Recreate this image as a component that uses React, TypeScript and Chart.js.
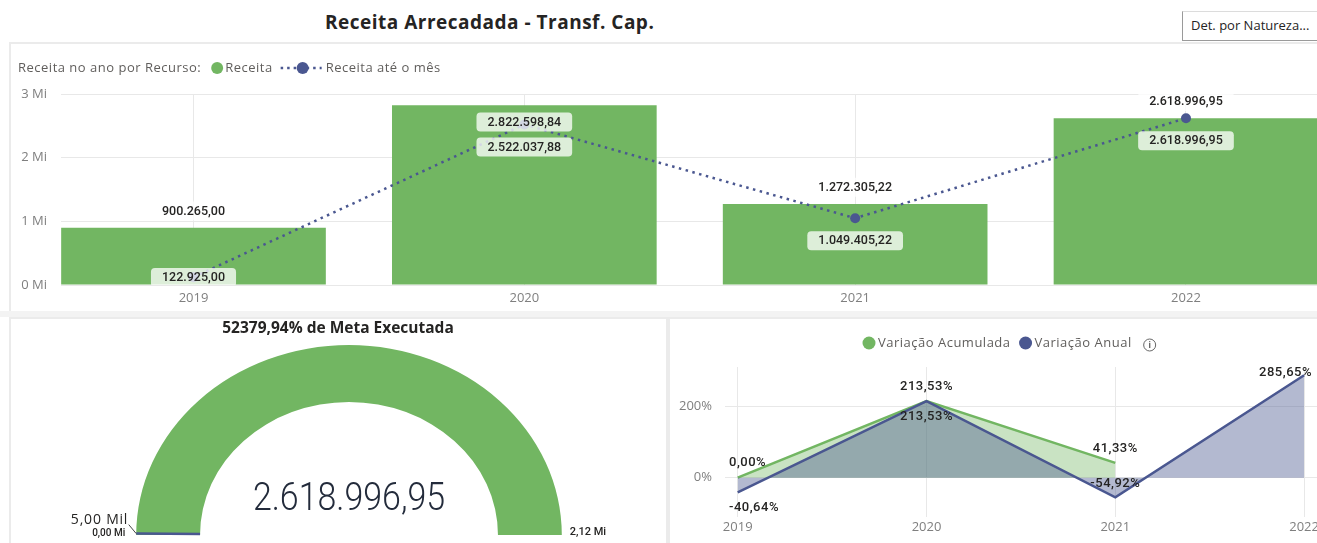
import React, { useEffect, useRef } from 'react';
import { Chart, registerables } from 'chart.js';

Chart.register(...registerables);
Chart.defaults.font.family = '"Open Sans", sans-serif';

// ---------------- data ----------------
const years = ['2019', '2020', '2021', '2022'];
const receita = [900265.0, 2822598.84, 1272305.22, 2618996.95];
const receitaAteMes = [122925.0, 2522037.88, 1049405.22, 2618996.95];
const yTicksMi = [0, 1000000, 2000000, 3000000];

const variacaoAcumulada = [0.0, 213.53, 41.33, null];
const variacaoAnual = [-40.64, 213.53, -54.92, 285.65];
const yTicksPct = [0, 200];

const gaugeValue = 2618996.95;
const gaugeMin = 0;
const gaugeMax = 2120000;
const gaugeTarget = 5000;
const metaExecutadaPct = 52379.94;

// ---------------- styles ----------------
const GREEN = '#72B662';
const BLUE = '#4A5790';
const GRID = '#E8E8E8';
const AXIS_TEXT = '#7F7F7F';
const LEGEND_TEXT = '#605E5C';
const LABEL_TEXT = '#252423';
const PANEL_BORDER = '#EBEBEB';

function fmtBR(v: number, d = 2): string {
  const neg = v < 0;
  const s = Math.abs(v).toFixed(d);
  const [int, frac] = s.split('.');
  const intS = int.replace(/\B(?=(\d{3})+(?!\d))/g, '.');
  return (neg ? '-' : '') + intS + (frac ? ',' + frac : '');
}
function pctBR(v: number): string {
  return v.toFixed(2).replace('.', ',') + '%';
}

function roundRectPath(ctx: CanvasRenderingContext2D, x: number, y: number, w: number, h: number, r: number) {
  ctx.beginPath();
  ctx.moveTo(x + r, y);
  ctx.lineTo(x + w - r, y);
  ctx.arcTo(x + w, y, x + w, y + r, r);
  ctx.lineTo(x + w, y + h - r);
  ctx.arcTo(x + w, y + h, x + w - r, y + h, r);
  ctx.lineTo(x + r, y + h);
  ctx.arcTo(x, y + h, x, y + h - r, r);
  ctx.lineTo(x, y + r);
  ctx.arcTo(x, y, x + r, y, r);
  ctx.closePath();
}

const fitX = (h: number) => (s: any) => {
  s.height = h;
  s.paddingLeft = 0;
  s.paddingRight = 0;
};
const fitY = (w: number) => (s: any) => {
  s.width = w;
  s.paddingTop = 0;
  s.paddingBottom = 0;
};

// ---------------- top chart ----------------
function ReceitaChart() {
  const ref = useRef<HTMLCanvasElement>(null);
  useEffect(() => {
    const canvas = ref.current!;

    const legendPlugin = {
      id: 'receitaLegend',
      afterDraw(chart: any) {
        const ctx: CanvasRenderingContext2D = chart.ctx;
        ctx.save();
        ctx.font = '13px "Open Sans"';
        (ctx as any).letterSpacing = '0.5px';
        ctx.textBaseline = 'middle';
        ctx.textAlign = 'left';
        const y = 24;
        let x = 18;
        const prefix = 'Receita no ano por Recurso:';
        ctx.fillStyle = LEGEND_TEXT;
        ctx.fillText(prefix, x, y);
        x += ctx.measureText(prefix).width + 10;
        ctx.fillStyle = GREEN;
        ctx.beginPath();
        ctx.arc(x + 6, y, 6, 0, Math.PI * 2);
        ctx.fill();
        x += 14;
        ctx.fillStyle = LEGEND_TEXT;
        const l1 = chart.data.datasets[0].label;
        ctx.fillText(l1, x, y);
        x += ctx.measureText(l1).width;
        ctx.strokeStyle = BLUE;
        ctx.lineWidth = 2.5;
        ctx.setLineDash([2.5, 4]);
        ctx.beginPath();
        ctx.moveTo(x + 8, y);
        ctx.lineTo(x + 49, y);
        ctx.stroke();
        ctx.setLineDash([]);
        ctx.fillStyle = BLUE;
        ctx.beginPath();
        ctx.arc(x + 30, y, 6, 0, Math.PI * 2);
        ctx.fill();
        ctx.fillStyle = LEGEND_TEXT;
        ctx.fillText(chart.data.datasets[1].label, x + 53, y);
        ctx.restore();
      },
    };

    const labelsPlugin = {
      id: 'receitaLabels',
      afterDatasetsDraw(chart: any) {
        const ctx: CanvasRenderingContext2D = chart.ctx;
        const area = chart.chartArea;
        ctx.save();
        ctx.beginPath();
        ctx.rect(0, 0, chart.width, area.bottom);
        ctx.clip();
        ctx.font = '500 12.5px Roboto';
        ctx.textAlign = 'center';
        ctx.textBaseline = 'middle';
        const drawBox = (text: string, x: number, y: number) => {
          const w = ctx.measureText(text).width + 22;
          const h = 19;
          ctx.fillStyle = 'rgba(255,255,255,0.76)';
          roundRectPath(ctx, x - w / 2, y - h / 2, w, h, 4);
          ctx.fill();
          ctx.fillStyle = LABEL_TEXT;
          ctx.fillText(text, x, y + 0.5);
        };
        const barMeta = chart.getDatasetMeta(0);
        const lineMeta = chart.getDatasetMeta(1);
        barMeta.data.forEach((bar: any, i: number) => {
          let y = bar.y - 16.7;
          if (y < area.top) y = bar.y + 16.7;
          drawBox(fmtBR(receita[i]), bar.x, y);
        });
        lineMeta.data.forEach((pt: any, i: number) => {
          let y = pt.y + 22.5;
          if (y > area.bottom - 7.5) y = area.bottom - 7.5;
          drawBox(fmtBR(receitaAteMes[i]), pt.x, y);
        });
        ctx.restore();
      },
    };

    const chart = new Chart(canvas, {
      type: 'bar',
      data: {
        datasets: [
          {
            type: 'bar',
            label: 'Receita',
            data: years.map((_, i) => ({ x: i, y: receita[i] })),
            backgroundColor: GREEN,
            borderWidth: 0,
            categoryPercentage: 1,
            barPercentage: 0.8,
            order: 2,
          } as any,
          {
            type: 'line',
            label: 'Receita até o mês',
            data: years.map((_, i) => ({ x: i, y: receitaAteMes[i] })),
            borderColor: BLUE,
            borderWidth: 2.5,
            borderDash: [2.5, 4.5],
            pointRadius: 5,
            pointBackgroundColor: BLUE,
            pointBorderWidth: 0,
            tension: 0,
            order: 1,
          } as any,
        ],
      },
      options: {
        responsive: false,
        animation: false,
        events: [],
        layout: { autoPadding: false, padding: { top: 50, left: 0, right: 0, bottom: 0 } },
        plugins: { legend: { display: false }, tooltip: { enabled: false } },
        scales: {
          x: {
            type: 'linear',
            min: -0.4005,
            max: 3.396,
            offset: false,
            grid: { offset: false, color: GRID, drawTicks: false },
            border: { display: false },
            afterBuildTicks: (s: any) => {
              s.ticks = years.map((_, i) => ({ value: i }));
            },
            ticks: {
              padding: 5,
              maxRotation: 0,
              autoSkip: false,
              color: AXIS_TEXT,
              font: { size: 13 },
              callback: (v: any) => years[v] ?? '',
            },
            afterFit: fitX(27),
          },
          y: {
            min: yTicksMi[0],
            max: yTicksMi[yTicksMi.length - 1],
            grid: { color: GRID, drawTicks: false },
            border: { display: false },
            afterBuildTicks: (s: any) => {
              s.ticks = yTicksMi.map((v) => ({ value: v }));
            },
            ticks: {
              padding: 14,
              color: AXIS_TEXT,
              font: { size: 13 },
              callback: (v: any) => `${v / 1000000} Mi`,
            },
            afterFit: fitY(61),
          },
        },
      } as any,
      plugins: [legendPlugin, labelsPlugin],
    });
    return () => chart.destroy();
  }, []);
  return <canvas ref={ref} width={1317} height={268} style={{ position: 'absolute', left: 0, top: 44 }} />;
}

// ---------------- gauge ----------------
const SX = 1.12;
function GaugeChart() {
  const ref = useRef<HTMLCanvasElement>(null);
  useEffect(() => {
    const canvas = ref.current!;
    const gaugePlugin = {
      id: 'gaugeDeco',
      beforeDatasetsDraw(chart: any) {
        const arc = chart.getDatasetMeta(0).data[0];
        const ctx = chart.ctx;
        ctx.save();
        ctx.translate(arc.x, 0);
        ctx.scale(SX, 1);
        ctx.translate(-arc.x, 0);
      },
      afterDatasetsDraw(chart: any) {
        chart.ctx.restore();
      },
      afterDraw(chart: any) {
        const ctx: CanvasRenderingContext2D = chart.ctx;
        const meta = chart.getDatasetMeta(0);
        const arc = meta.data[0];
        const cx = arc.x;
        const cy = arc.y;
        const ro = arc.outerRadius;
        const ri = arc.innerRadius;
        const start = arc.startAngle;
        const end = meta.data[meta.data.length - 1].endAngle;
        ctx.save();
        ctx.font = '700 15.5px "Open Sans"';
        ctx.fillStyle = LABEL_TEXT;
        ctx.textAlign = 'center';
        ctx.textBaseline = 'middle';
        ctx.fillText(`${pctBR(metaExecutadaPct)} de Meta Executada`, chart.width / 2, 9);
        ctx.save();
        ctx.translate(cx, cy - 25);
        ctx.scale(0.87, 1);
        ctx.font = '300 39px Roboto';
        ctx.fillStyle = '#232B3B';
        ctx.textBaseline = 'alphabetic';
        ctx.fillText(fmtBR(gaugeValue), 0, 0);
        ctx.restore();
        const frac = (gaugeTarget - gaugeMin) / (gaugeMax - gaugeMin);
        const th = start + frac * (end - start);
        const pin = { x: cx + Math.cos(th) * ri * SX, y: cy + Math.sin(th) * ri };
        const pout = { x: cx + Math.cos(th) * ro * SX, y: cy + Math.sin(th) * ro };
        ctx.strokeStyle = BLUE;
        ctx.lineWidth = 2.5;
        ctx.beginPath();
        ctx.moveTo(pin.x, pin.y);
        ctx.lineTo(pout.x, pout.y);
        ctx.stroke();
        ctx.strokeStyle = '#444444';
        ctx.lineWidth = 1;
        ctx.beginPath();
        ctx.moveTo(pout.x, pout.y);
        ctx.lineTo(pout.x - 7.5, pout.y - 9);
        ctx.stroke();
        ctx.fillStyle = LABEL_TEXT;
        ctx.textAlign = 'right';
        ctx.font = '14px "Open Sans"';
        (ctx as any).letterSpacing = '0.8px';
        ctx.fillText(`${(gaugeTarget / 1000).toFixed(2).replace('.', ',')} Mil`, pout.x - 8, pout.y - 14);
        (ctx as any).letterSpacing = '0px';
        ctx.font = '500 10px Roboto';
        ctx.fillText(`${(gaugeMin / 1000000).toFixed(2).replace('.', ',')} Mi`, pout.x - 11, cy - 2);
        ctx.textAlign = 'left';
        ctx.font = '500 11px Roboto';
        ctx.fillText(`${(gaugeMax / 1000000).toFixed(2).replace('.', ',')} Mi`, cx + ro * SX + 8, cy - 3);
        ctx.restore();
      },
    };
    const filled = Math.min(gaugeValue, gaugeMax) - gaugeMin;
    const rest = gaugeMax - gaugeMin - filled;
    const chart = new Chart(canvas, {
      type: 'doughnut',
      data: {
        labels: ['Receita', ''],
        datasets: [
          {
            data: [filled, rest],
            backgroundColor: [GREEN, '#E6E6E6'],
            borderWidth: 0,
            radius: 190,
            cutout: '70%',
            circumference: 180,
            rotation: -90,
            clip: false,
          } as any,
        ],
      },
      options: {
        responsive: false,
        animation: false,
        events: [],
        layout: { autoPadding: false, padding: { top: 17, left: 22, right: 0, bottom: 0 } },
        plugins: { legend: { display: false }, tooltip: { enabled: false } },
      } as any,
      plugins: [gaugePlugin],
    });
    return () => chart.destroy();
  }, []);
  return <canvas ref={ref} width={652} height={223} style={{ position: 'absolute', left: 12, top: 320 }} />;
}

// ---------------- variation chart ----------------
const anualLabelPlacement = ['below', 'below', 'above', 'center'];
function VariacaoChart() {
  const ref = useRef<HTMLCanvasElement>(null);
  useEffect(() => {
    const canvas = ref.current!;
    const legendPlugin = {
      id: 'varLegend',
      afterDraw(chart: any) {
        const ctx: CanvasRenderingContext2D = chart.ctx;
        ctx.save();
        ctx.font = '13px "Open Sans"';
        (ctx as any).letterSpacing = '0.5px';
        ctx.textBaseline = 'middle';
        ctx.textAlign = 'left';
        const y = 23;
        let x = 198;
        [1, 0].forEach((di) => {
          const ds = chart.data.datasets[di];
          ctx.fillStyle = ds.borderColor;
          ctx.beginPath();
          ctx.arc(x, y, 6.5, 0, Math.PI * 2);
          ctx.fill();
          ctx.fillStyle = LEGEND_TEXT;
          ctx.fillText(ds.label, x + 9, y + 0.5);
          x = x + 9 + ctx.measureText(ds.label).width + 15;
        });
        const ix = x + 3;
        ctx.strokeStyle = '#666666';
        ctx.lineWidth = 1;
        ctx.beginPath();
        ctx.arc(ix, y + 2, 6, 0, Math.PI * 2);
        ctx.stroke();
        (ctx as any).letterSpacing = '0px';
        ctx.fillStyle = '#555555';
        ctx.font = 'bold 8px "Open Sans"';
        ctx.textAlign = 'center';
        ctx.fillText('i', ix, y + 2.5);
        ctx.restore();
      },
    };
    const labelsPlugin = {
      id: 'varLabels',
      afterDatasetsDraw(chart: any) {
        const ctx: CanvasRenderingContext2D = chart.ctx;
        const area = chart.chartArea;
        ctx.save();
        ctx.font = '500 13px Roboto';
        (ctx as any).letterSpacing = '0.5px';
        ctx.fillStyle = LABEL_TEXT;
        ctx.textBaseline = 'middle';
        ctx.textAlign = 'left';
        const place = (text: string, x: number, y: number) => {
          const w = ctx.measureText(text).width;
          let left = x - w / 2;
          left = Math.max(area.left + 4, Math.min(area.right - 5 - w, left));
          ctx.fillText(text, left, y);
        };
        const anualMeta = chart.getDatasetMeta(0);
        const acumMeta = chart.getDatasetMeta(1);
        acumMeta.data.forEach((pt: any, i: number) => {
          const v = variacaoAcumulada[i];
          if (v === null || v === undefined || !isFinite(pt.y)) return;
          place(fmtBR(v) + '%', pt.x, pt.y - 14.5);
        });
        anualMeta.data.forEach((pt: any, i: number) => {
          const v = variacaoAnual[i];
          if (v === null || v === undefined || !isFinite(pt.y)) return;
          const pos = anualLabelPlacement[i];
          const dy = pos === 'above' ? -14 : pos === 'below' ? 15.5 : -2.5;
          place(fmtBR(v) + '%', pt.x, pt.y + dy);
        });
        ctx.restore();
      },
    };
    const chart = new Chart(canvas, {
      type: 'line',
      data: {
        datasets: [
          {
            label: 'Variação Anual',
            data: years.map((_, i) => ({ x: i, y: variacaoAnual[i] })),
            borderColor: BLUE,
            backgroundColor: 'rgba(74,87,144,0.42)',
            fill: 'origin',
            borderWidth: 2.5,
            pointRadius: 0,
            tension: 0,
          } as any,
          {
            label: 'Variação Acumulada',
            data: years.map((_, i) => ({ x: i, y: variacaoAcumulada[i] })),
            borderColor: GREEN,
            backgroundColor: 'rgba(114,182,98,0.38)',
            fill: 'origin',
            borderWidth: 2.5,
            pointRadius: 0,
            tension: 0,
          } as any,
        ],
      },
      options: {
        responsive: false,
        animation: false,
        events: [],
        layout: { autoPadding: false, padding: { top: 47, left: 0, right: 0, bottom: 0 } },
        plugins: { legend: { display: false }, tooltip: { enabled: false } },
        scales: {
          x: {
            type: 'linear',
            min: -0.0673,
            max: 3.0683,
            offset: false,
            grid: { offset: false, color: GRID, drawTicks: false },
            border: { display: false },
            afterBuildTicks: (s: any) => {
              s.ticks = years.map((_, i) => ({ value: i }));
            },
            ticks: {
              padding: 2.5,
              maxRotation: 0,
              autoSkip: false,
              color: AXIS_TEXT,
              font: { size: 13 },
              callback: (v: any) => years[v] ?? '',
            },
            afterFit: fitX(26),
          },
          y: {
            min: -109.6,
            max: 308.8,
            grid: { color: GRID, drawTicks: false },
            border: { display: false },
            afterBuildTicks: (s: any) => {
              s.ticks = yTicksPct.map((v) => ({ value: v }));
            },
            ticks: {
              padding: 13,
              color: AXIS_TEXT,
              font: { size: 13 },
              callback: (v: any) => `${v}%`,
            },
            afterFit: fitY(54),
          },
        },
      } as any,
      plugins: [legendPlugin, labelsPlugin],
    });
    return () => chart.destroy();
  }, []);
  return <canvas ref={ref} width={646} height={223} style={{ position: 'absolute', left: 671, top: 320 }} />;
}

export default function App() {
  return (
    <div
      style={{
        position: 'fixed',
        left: 0,
        top: 0,
        width: 1317,
        height: 543,
        overflow: 'hidden',
        background: '#ffffff',
        fontFamily: '"Open Sans", sans-serif',
      }}
    >
      <div
        style={{
          position: 'absolute',
          left: 325,
          top: 8,
          fontSize: 19,
          fontWeight: 700,
          letterSpacing: '0.5px',
          lineHeight: '28px',
          color: LABEL_TEXT,
          whiteSpace: 'nowrap',
        }}
      >
        Receita Arrecadada - Transf. Cap.
      </div>
      <div
        style={{
          position: 'absolute',
          left: 1182,
          top: 11,
          width: 150,
          height: 30,
          boxSizing: 'border-box',
          borderLeft: '1px solid #9A9A9A',
          borderBottom: '1px solid #9A9A9A',
          borderTop: '1px solid #DCDCDC',
          paddingLeft: 8,
          lineHeight: '27px',
          fontSize: 13,
          color: LABEL_TEXT,
          whiteSpace: 'nowrap',
          background: '#ffffff',
        }}
      >
        Det. por Natureza...
      </div>
      <div
        style={{
          position: 'absolute',
          left: 9,
          top: 42,
          width: 1340,
          height: 268,
          borderTop: `2px solid ${PANEL_BORDER}`,
          borderLeft: `2px solid ${PANEL_BORDER}`,
        }}
      />
      <div style={{ position: 'absolute', left: 0, top: 311, width: 1317, height: 6, background: '#F3F3F3' }} />
      <div
        style={{
          position: 'absolute',
          left: 9,
          top: 317,
          width: 655,
          height: 240,
          borderTop: `2px solid ${PANEL_BORDER}`,
          borderLeft: `2px solid ${PANEL_BORDER}`,
          borderRight: `2px solid ${PANEL_BORDER}`,
        }}
      />
      <div
        style={{
          position: 'absolute',
          left: 668,
          top: 317,
          width: 700,
          height: 240,
          borderTop: `2px solid ${PANEL_BORDER}`,
          borderLeft: `2px solid ${PANEL_BORDER}`,
        }}
      />
      <ReceitaChart />
      <GaugeChart />
      <VariacaoChart />
    </div>
  );
}
